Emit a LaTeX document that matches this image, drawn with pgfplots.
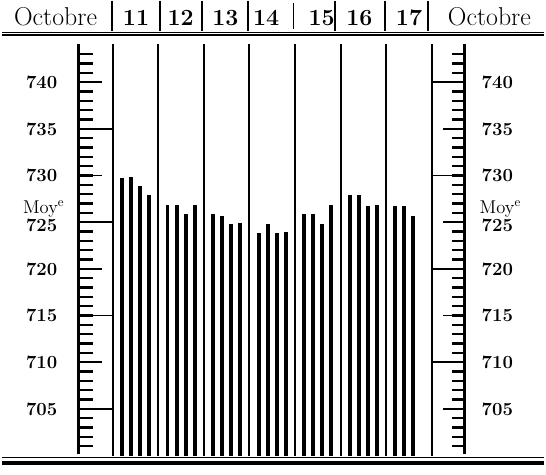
\documentclass[border=0pt]{standalone}
\usepackage{pgfplots}
\pgfplotsset{compat=1.18}
\newcommand\PX[1]{\fpeval{11+((#1)-111.7)/45.86}}
\newcommand\PY[1]{\fpeval{748.723-(#1)/9.4}}
\newcommand\hdr{\fontsize{19.5}{20}\selectfont}
\newcommand\dig{\fontsize{17.5}{18}\selectfont\bfseries}
\newcommand\lab{\fontsize{14}{14}\selectfont\bfseries}
\begin{document}
\begin{tikzpicture}
\begin{axis}[
  x=34.395pt, y=7.05pt,
  xmin=8.5643, xmax=20.470, ymin=700, ymax=744.15,
  hide axis, clip mode=individual,
]
% bars: barometric readings (mm), four per day
\addplot[ycomb, line width=3pt, black] coordinates {
 (11.2,729.7) (11.4,729.9) (11.6,728.9) (11.8,727.9)
 (12.2,726.8) (12.4,726.8) (12.6,725.9) (12.8,726.8)
 (13.2,725.9) (13.4,725.7) (13.6,724.8) (13.8,724.9)
 (14.2,723.8) (14.4,724.8) (14.6,723.8) (14.8,723.9)
 (15.2,725.9) (15.4,725.9) (15.6,724.8) (15.8,726.8)
 (16.2,727.9) (16.4,727.9) (16.6,726.7) (16.8,726.8)
 (17.2,726.7) (17.4,726.7) (17.6,725.7)
};
% bounding box of the whole figure
\path (axis cs:\PX{0},\PY{0}) rectangle (axis cs:\PX{546},\PY{477});
% header rules
\draw[line width=0.75pt] (axis cs:\PX{0},\PY{31.5}) -- (axis cs:\PX{546},\PY{31.5});
\draw[line width=1.9pt] (axis cs:\PX{0},\PY{34.5}) -- (axis cs:\PX{546},\PY{34.5});
% bottom rules
\draw[line width=0.75pt] (axis cs:\PX{0},\PY{460}) -- (axis cs:\PX{546},\PY{460});
\draw[line width=3pt] (axis cs:\PX{0},\PY{466}) -- (axis cs:\PX{546},\PY{466});
% header separators
\pgfplotsinvokeforeach{111,159,201.7,247.7,335.7,386,429}{
  \draw[line width=1.3pt] (axis cs:\PX{#1},\PY{0}) -- (axis cs:\PX{#1},\PY{30});
}
\draw[line width=0.6pt] (axis cs:\PX{293.3},\PY{2}) -- (axis cs:\PX{293.3},\PY{28});
% header texts
\node[anchor=base] at (axis cs:\PX{54},\PY{25}) {\hdr Octobre};
\node[anchor=base] at (axis cs:\PX{491},\PY{25}) {\hdr Octobre};
\node[anchor=base] at (axis cs:\PX{135},\PY{25}) {\dig 11};
\node[anchor=base] at (axis cs:\PX{180},\PY{25}) {\dig 12};
\node[anchor=base] at (axis cs:\PX{225},\PY{25}) {\dig 13};
\node[anchor=base] at (axis cs:\PX{266},\PY{25}) {\dig 14};
\node[anchor=base] at (axis cs:\PX{322},\PY{25}) {\dig 15};
\node[anchor=base] at (axis cs:\PX{360},\PY{25}) {\dig 16};
\node[anchor=base] at (axis cs:\PX{410},\PY{25}) {\dig 17};
% day lines
\pgfplotsinvokeforeach{11,...,18}{
  \draw[line width=1.5pt] (axis cs:#1,700) -- (axis cs:#1,\PY{43});
}
% left scale
\draw[line width=2.8pt] (axis cs:\PX{77},\PY{43}) -- (axis cs:\PX{77},\PY{456});
\pgfplotsinvokeforeach{701,...,743}{
  \draw[line width=1.7pt] (axis cs:\PX{77},#1) -- (axis cs:\PX{92},#1);
}
\pgfplotsinvokeforeach{710,720,730,740}{
  \draw[line width=1.2pt] (axis cs:\PX{77},#1) -- (axis cs:\PX{101},#1);
}
\pgfplotsinvokeforeach{705,715,725,735}{
  \draw[line width=1.2pt] (axis cs:\PX{77},#1) -- (axis cs:11,#1);
}
% right scale
\draw[line width=2.8pt] (axis cs:\PX{466},\PY{43}) -- (axis cs:\PX{466},\PY{456});
\pgfplotsinvokeforeach{701,...,743}{
  \draw[line width=1.7pt] (axis cs:\PX{466},#1) -- (axis cs:\PX{453},#1);
}
\pgfplotsinvokeforeach{705,715,725,735}{
  \draw[line width=1.2pt] (axis cs:\PX{466},#1) -- (axis cs:\PX{444},#1);
}
\pgfplotsinvokeforeach{710,720,730,740}{
  \draw[line width=1.2pt] (axis cs:\PX{466},#1) -- (axis cs:18,#1);
}
% scale labels
\pgfplotsinvokeforeach{705,710,715,720,730,735,740}{
  \node[inner sep=0pt] at (axis cs:\PX{40},#1) {\lab #1};
  \node[inner sep=0pt] at (axis cs:\PX{499},#1) {\lab #1};
}
\node[inner sep=0pt] at (axis cs:\PX{40},\PY{226}) {\lab 725};
\node[inner sep=0pt] at (axis cs:\PX{499},\PY{226}) {\lab 725};
\node[anchor=base, inner sep=0pt] at (axis cs:\PX{42},\PY{214}) {\fontsize{14}{14}\selectfont Moy\textsuperscript{e}};
\node[anchor=base, inner sep=0pt] at (axis cs:\PX{502},\PY{214}) {\fontsize{14}{14}\selectfont Moy\textsuperscript{e}};
\end{axis}
\end{tikzpicture}
\end{document}
